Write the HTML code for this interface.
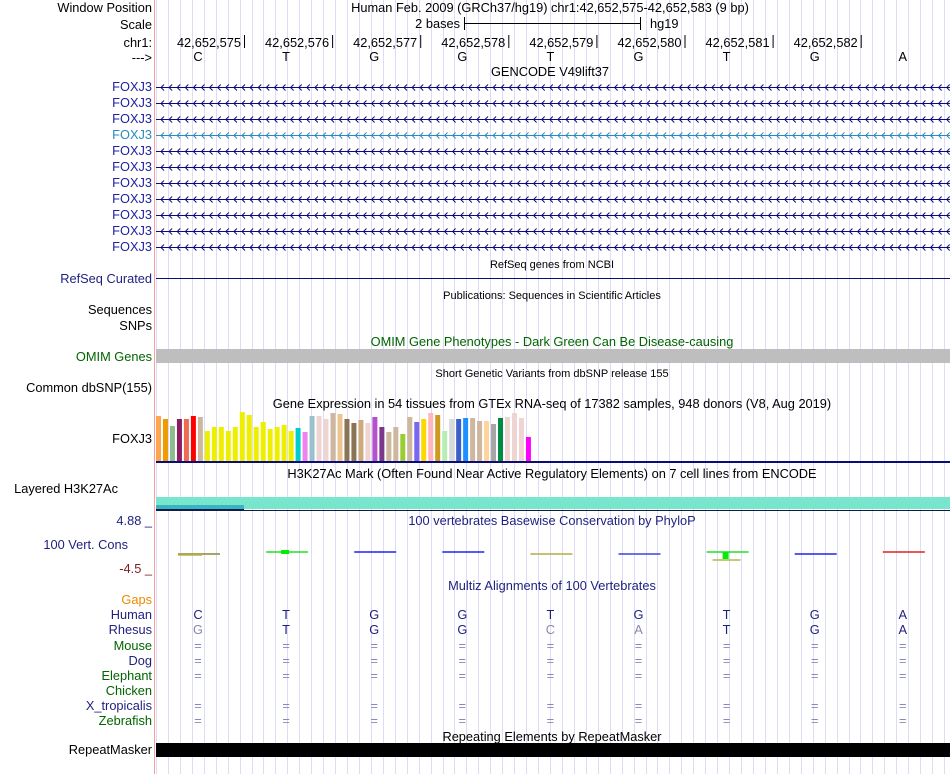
<!DOCTYPE html>
<html><head><meta charset="utf-8"><style>
body{margin:0;background:#fff;width:950px;height:774px;overflow:hidden;font-family:"Liberation Sans",sans-serif}
svg text{font-family:"Liberation Sans",sans-serif;font-size:12.8px}
svg text.sm{font-size:11px}
</style></head><body>
<svg id="s" width="950" height="774" xmlns="http://www.w3.org/2000/svg">
<g id="grid"></g>
<line x1="154.5" y1="0" x2="154.5" y2="774" stroke="#f4a0a0"/>
<g text-anchor="end">
<text x="152" y="12">Window Position</text>
<text x="152" y="29">Scale</text>
<text x="152" y="47">chr1:</text>
<text x="152" y="62">---&gt;</text>
<g id="foxlabels"></g>
<text x="152" y="283" fill="#1f1f7f">RefSeq Curated</text>
<text x="152" y="314">Sequences</text>
<text x="152" y="330">SNPs</text>
<text x="152" y="361" fill="#006400">OMIM Genes</text>
<text x="152" y="392">Common dbSNP(155)</text>
<text x="152" y="443">FOXJ3</text>
<text x="118" y="493">Layered H3K27Ac</text>
<text x="152" y="525" fill="#1f1f7f">4.88 _</text>
<text x="128" y="549" fill="#1f1f7f">100 Vert. Cons</text>
<text x="152" y="573" fill="#7f1f1f">-4.5 _</text>
<text x="152" y="604" fill="#ee8800">Gaps</text>
<text x="152" y="619" fill="#1f1f7f">Human</text>
<text x="152" y="634" fill="#1f1f7f">Rhesus</text>
<text x="152" y="650" fill="#006400">Mouse</text>
<text x="152" y="665" fill="#1f1f7f">Dog</text>
<text x="152" y="680" fill="#006400">Elephant</text>
<text x="152" y="695" fill="#006400">Chicken</text>
<text x="152" y="710" fill="#1f1f7f">X_tropicalis</text>
<text x="152" y="725" fill="#006400">Zebrafish</text>
<text x="152" y="754">RepeatMasker</text>
</g>
<g text-anchor="middle">
<text x="550" y="12">Human Feb. 2009 (GRCh37/hg19)   chr1:42,652,575-42,652,583 (9 bp)</text>
<text x="550" y="76">GENCODE V49lift37</text>
<text x="552" y="268" class="sm">RefSeq genes from NCBI</text>
<text x="552" y="299" class="sm">Publications: Sequences in Scientific Articles</text>
<text x="552" y="346" fill="#006400">OMIM Gene Phenotypes - Dark Green Can Be Disease-causing</text>
<text x="552" y="377" class="sm">Short Genetic Variants from dbSNP release 155</text>
<text x="552" y="408">Gene Expression in 54 tissues from GTEx RNA-seq of 17382 samples, 948 donors (V8, Aug 2019)</text>
<text x="552" y="478">H3K27Ac Mark (Often Found Near Active Regulatory Elements) on 7 cell lines from ENCODE</text>
<text x="552" y="525" fill="#1f1f7f">100 vertebrates Basewise Conservation by PhyloP</text>
<text x="552" y="590" fill="#1f1f7f">Multiz Alignments of 100 Vertebrates</text>
<text x="552" y="741">Repeating Elements by RepeatMasker</text>
</g>
<g>
<text x="460" y="28" text-anchor="end">2 bases</text>
<line x1="464.5" y1="17" x2="464.5" y2="30" stroke="#000"/><line x1="640.5" y1="17" x2="640.5" y2="30" stroke="#000"/>
<line x1="464" y1="23.5" x2="640" y2="23.5" stroke="#000"/>
<text x="650" y="28">hg19</text>
</g>
<g id="ruler"></g>
<g id="genes"></g>
<line x1="156" y1="278.5" x2="950" y2="278.5" stroke="#0c0c78"/>
<rect x="156" y="349" width="794" height="14" fill="#bebebe"/>
<g id="gtex"></g>
<rect x="156" y="461" width="794" height="2" fill="#0c0c78"/>
<g>
<rect x="156" y="497" width="794" height="10" fill="#77e6cc"/>
<rect x="156" y="505" width="88" height="4" fill="#3ab4c4"/>
<rect x="156" y="509" width="88" height="2" fill="#0c1c48"/>
<rect x="244" y="507" width="706" height="2" fill="#77e6cc"/>
<rect x="156" y="510" width="794" height="1" fill="#0c1c48"/>
</g>
<g id="cons"></g>
<g id="multiz" text-anchor="middle"></g>
<rect x="156" y="743" width="794" height="14" fill="#000"/>
</svg>
<script>
const NS="http://www.w3.org/2000/svg",s=document.getElementById('s');
function mk(p,t,a){const e=document.createElementNS(NS,t);for(const k in a)e.setAttribute(k,a[k]);p.appendChild(e);return e;}
const grid=document.getElementById('grid');
for(let x=156;x<950;x+=11.94){const l=mk(grid,'line',{x1:Math.round(x)+.5,y1:0,x2:Math.round(x)+.5,y2:774,stroke:'#dcdcf6'});

}
const bases=['C','T','G','G','T','G','T','G','A'];
const positions=['42,652,575','42,652,576','42,652,577','42,652,578','42,652,579','42,652,580','42,652,581','42,652,582'];
const rhesus=['G','T','G','G','C','A','T','G','A'];
const rhesusMatch=[0,1,1,1,0,0,1,1,1];
const bx=i=>198+i*88.1;
const ruler=document.getElementById('ruler');
positions.forEach((p,i)=>{const tx=bx(i)+46;const t=mk(ruler,'text',{x:tx-3,y:47,'text-anchor':'end'});t.textContent=p;

mk(ruler,'line',{x1:tx+.5,y1:35,x2:tx+.5,y2:48,stroke:'#000'});});
bases.forEach((b,i)=>{const t=mk(ruler,'text',{x:bx(i),y:61,'text-anchor':'middle'});t.textContent=b;
});
const genes=document.getElementById('genes'),fl=document.getElementById('foxlabels');
for(let r=0;r<11;r++){const y=87+r*16,c=r==3?'#2a8ac0':'#0c0c78';
const t=mk(fl,'text',{x:152,y:y+4,fill:r==3?'#2a8ac0':'#1f1f9f'});t.textContent='FOXJ3';

const g=mk(genes,'g',{stroke:c,fill:'none'});

mk(g,'line',{x1:156,y1:y+.5,x2:950,y2:y+.5});
let d='';for(let x=161;x<950;x+=8.1){d+=`M${x+3},${y-2.5}L${x},${y+.5}L${x+3},${y+3.5}`;}
mk(g,'path',{d:d});}
// GTEx
const tissueValues=[45,42,35,42,42,45,44,30,34,34,30,34,49,46,34,39,32,34,36,30,33,29,45,45,42,48,47,42,38,41,38,44,34,29,34,27,44,39,42,48,46,30,42,42,43,43,40,40,37,43,44,48,43,24];
const tissueColors=['#FFA54F','#EE9A00','#8FBC8F','#8B1C62','#EE6A50','#FF0000','#CDB79E','#EEEE00','#EEEE00','#EEEE00','#EEEE00','#EEEE00','#EEEE00','#EEEE00','#EEEE00','#EEEE00','#EEEE00','#EEEE00','#EEEE00','#EEEE00','#00CDCD','#EE82EE','#9AC0CD','#EED5D2','#EED5D2','#CDB79E','#EEC591','#8B7355','#8B7355','#CDAA7D','#EED5D2','#B452CD','#7A378B','#CDB79E','#CDB79E','#9ACD32','#CDB79E','#7A67EE','#FFD700','#FFB6C1','#CD9B1D','#B4EEB4','#D9D9D9','#3A5FCD','#1E90FF','#CDB79E','#CDB79E','#FFD39B','#A6A6A6','#008B45','#EED5D2','#EED5D2','#EED5D2','#FF00FF'];
const gtex=document.getElementById('gtex');
const gx=i=>156+i*6.98, gy=v=>461-v;
tissueValues.forEach((v,i)=>{const r=mk(gtex,'rect',{x:gx(i),y:gy(v),width:5,height:v,fill:tissueColors[i]});
});
// conservation
const consColors=['#8a8a30','#20e020','#2020f0','#2020f0','#b0b040','#4040e0','#20e020','#2020f0','#e02020'];
const cons=document.getElementById('cons');
consColors.forEach((c,i)=>{const x=bx(i)-20;const l=mk(cons,'rect',{x:x,y:i==0||i==4||i==5||i==7?553:551,width:42,height:2,fill:c,opacity:.75});
});
mk(cons,'rect',{x:bx(0)-20,y:554,width:24,height:2,fill:'#b0b040',opacity:.7});
mk(cons,'rect',{x:bx(1)-5,y:550,width:8,height:4,fill:'#00ee00'});
mk(cons,'rect',{x:bx(6)-4,y:552,width:6,height:7,fill:'#00ee00'});
mk(cons,'rect',{x:bx(6)-14,y:559,width:28,height:2,fill:'#b0b040',opacity:.7});
// multiz
const mz=document.getElementById('multiz');
const rowsEq=[650,665,680,710,725];
bases.forEach((b,i)=>{let t=mk(mz,'text',{x:bx(i),y:619,fill:'#1f1f7f'});t.textContent=b;

t=mk(mz,'text',{x:bx(i),y:634,fill:rhesusMatch[i]?'#1f1f7f':'#8888aa'});t.textContent=rhesus[i];

rowsEq.forEach(y=>{const e=mk(mz,'text',{x:bx(i),y:y,fill:'#8888bb'});e.textContent='=';
});});
</script>
</body></html>
